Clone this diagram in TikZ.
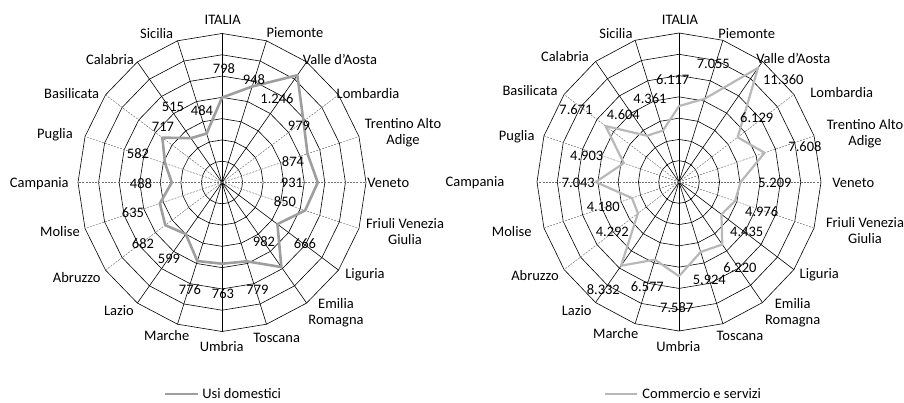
\documentclass[tikz,border=0pt]{standalone}
\usepackage{fontspec}
\setmainfont{Carlito}
\usepackage{tikz}
\usetikzlibrary{positioning}

\begin{document}
\begin{tikzpicture}[x=1pt, y=1pt]
	\tikzstyle{Region}	= [inner sep=0pt, font=\fontsize{14.5}{16}\selectfont, align=center]
	\tikzstyle{Value}	= [inner sep=0pt, font=\fontsize{14.5}{16}\selectfont]
	\tikzstyle{Ring}	= [line width=0.6pt, black]
	\tikzstyle{Spoke}	= [line width=0.6pt, black]
	\tikzstyle{Faint}	= [line width=0.5pt, black!55, dash pattern=on 2pt off 1.2pt]
	\tikzstyle{UD}		= [line width=2.6pt, black!38, line join=round]
	\tikzstyle{CS}		= [line width=2.2pt, black!28, line join=round]

	\useasboundingbox (0,0) rectangle (904,402);

	% grid, usi domestici
	\begin{scope}[shift={(222,219.5)}, xscale=144, yscale=149]
		\foreach \r in {1,...,7}
			\draw [Ring] (90:{\r/7}) \foreach \i in {1,...,19} { -- ({90-18*\i}:{\r/7}) } -- cycle;
		\foreach \i in {0,1,2,7,8,9,10,11,12,18,19}
			\draw [Spoke] (0,0) -- ({90-18*\i}:1);
		\foreach \i in {3,4,5,6,13,14,15,16,17}
			\draw [Faint] (0,0) -- ({90-18*\i}:1);
		\foreach \v [count=\i from 0] in {798,948,1246,979,874,931,850,666,982,779,763,776,599,682,635,488,582,717,515,484}
			\coordinate (d\i) at ({90-18*\i}:{\v/1400});
	\end{scope}

	% grid, commercio e servizi
	\begin{scope}[shift={(679,220)}, xscale=142, yscale=149]
		\foreach \r in {1,...,7}
			\draw [Ring] (90:{\r/7}) \foreach \i in {1,...,19} { -- ({90-18*\i}:{\r/7}) } -- cycle;
		\foreach \i in {0,1,2,7,8,9,10,11,12,18,19}
			\draw [Spoke] (0,0) -- ({90-18*\i}:1);
		\foreach \i in {3,4,5,6,13,14,15,16,17}
			\draw [Faint] (0,0) -- ({90-18*\i}:1);
		\foreach \v [count=\i from 0] in {6117,7055,11360,6129,7608,5209,4976,4435,6220,5924,7587,6577,8332,4292,4180,7043,4903,7671,4604,4361}
			\coordinate (c\i) at ({90-18*\i}:{\v/12000});
	\end{scope}

	\draw [UD] (d0) \foreach \i in {1,...,19} { -- (d\i) } -- cycle;
	\draw [CS] (c0) \foreach \i in {1,...,19} { -- (c\i) } -- cycle;

	% regioni, sinistra
	\node (dItalia) at (222.7, 382) [Region] {ITALIA};
	\node (dPiemonte) at (295, 369.7) [Region] {Piemonte};
	\node (dValle) at (340, 342.7) [Region] {Valle d'Aosta};
	\node (dLombardia) at (368, 308.7) [Region] {Lombardia};
	\node (dTrentino) at (403, 269.5) [Region] {Trentino Alto\\Adige};
	\node (dVeneto) at (388.3, 218.7) [Region] {Veneto};
	\node (dFriuli) at (405, 170.7) [Region] {Friuli Venezia\\Giulia};
	\node (dLiguria) at (365, 127) [Region] {Liguria};
	\node (dEmilia) at (336, 89) [Region] {Emilia\\Romagna};
	\node (dToscana) at (276.7, 63.7) [Region] {Toscana};
	\node (dUmbria) at (221.7, 55.3) [Region] {Umbria};
	\node (dMarche) at (166.7, 66) [Region] {Marche};
	\node (dLazio) at (119, 91.3) [Region] {Lazio};
	\node (dAbruzzo) at (76.7, 124.7) [Region] {Abruzzo};
	\node (dMolise) at (60, 170.3) [Region] {Molise};
	\node (dCampania) at (39.3, 218) [Region] {Campania};
	\node (dPuglia) at (55, 267) [Region] {Puglia};
	\node (dBasilicata) at (71.7, 308) [Region] {Basilicata};
	\node (dCalabria) at (110, 342.7) [Region] {Calabria};
	\node (dSicilia) at (156.7, 368.7) [Region] {Sicilia};

	% valori, sinistra
	\node (dv0) at (224, 333) [Value] {798};
	\node (dv1) at (254, 322) [Value] {948};
	\node (dv2) at (277, 303) [Value] {1.246};
	\node (dv3) at (299, 276) [Value] {979};
	\node (dv4) at (293, 240) [Value] {874};
	\node (dv5) at (292, 219) [Value] {931};
	\node (dv6) at (285, 200) [Value] {850};
	\node (dv7) at (305, 158.5) [Value] {666};
	\node (dv8) at (264, 160.5) [Value] {982};
	\node (dv9) at (257.5, 112) [Value] {779};
	\node (dv10) at (223, 108) [Value] {763};
	\node (dv11) at (190, 112) [Value] {776};
	\node (dv12) at (169, 143.5) [Value] {599};
	\node (dv13) at (143, 158.5) [Value] {682};
	\node (dv14) at (133, 189) [Value] {635};
	\node (dv15) at (141, 218) [Value] {488};
	\node (dv16) at (138, 248) [Value] {582};
	\node (dv17) at (163, 275) [Value] {717};
	\node (dv18) at (173, 295) [Value] {515};
	\node (dv19) at (202, 291) [Value] {484};

	% regioni, destra
	\node (cItalia) at (680, 382) [Region] {ITALIA};
	\node (cPiemonte) at (746.7, 368.7) [Region] {Piemonte};
	\node (cValle) at (793.3, 343.7) [Region] {Valle d'Aosta};
	\node (cLombardia) at (841.7, 309.3) [Region] {Lombardia};
	\node (cTrentino) at (865, 268) [Region] {Trentino Alto\\Adige};
	\node (cVeneto) at (853.3, 218.7) [Region] {Veneto};
	\node (cFriuli) at (865, 171.2) [Region] {Friuli Venezia\\Giulia};
	\node (cLiguria) at (819.3, 127) [Region] {Liguria};
	\node (cEmilia) at (792.7, 89) [Region] {Emilia\\Romagna};
	\node (cToscana) at (740, 66) [Region] {Toscana};
	\node (cUmbria) at (678.3, 55.3) [Region] {Umbria};
	\node (cMarche) at (615.7, 68.7) [Region] {Marche};
	\node (cLazio) at (576.7, 91.3) [Region] {Lazio};
	\node (cAbruzzo) at (535, 126) [Region] {Abruzzo};
	\node (cMolise) at (511.7, 170.3) [Region] {Molise};
	\node (cCampania) at (475, 219.3) [Region] {Campania};
	\node (cPuglia) at (516.7, 265.3) [Region] {Puglia};
	\node (cBasilicata) at (530, 311.3) [Region] {Basilicata};
	\node (cCalabria) at (565, 345.3) [Region] {Calabria};
	\node (cSicilia) at (616, 368.7) [Region] {Sicilia};

	% valori, destra
	\node (cv0) at (672.7, 322.7) [Value] {6.117};
	\node (cv1) at (713.3, 337.7) [Value] {7.055};
	\node (cv2) at (783.3, 322.7) [Value] {11.360};
	\node (cv3) at (756.7, 284.7) [Value] {6.129};
	\node (cv4) at (805, 255.3) [Value] {7.608};
	\node (cv5) at (775, 219.3) [Value] {5.209};
	\node (cv6) at (761.7, 190.3) [Value] {4.976};
	\node (cv7) at (746.7, 170.3) [Value] {4.435};
	\node (cv8) at (740, 134.7) [Value] {6.220};
	\node (cv9) at (709.3, 122) [Value] {5.924};
	\node (cv10) at (676.7, 94.7) [Value] {7.587};
	\node (cv11) at (647.3, 115.3) [Value] {6.577};
	\node (cv12) at (603.3, 112.7) [Value] {8.332};
	\node (cv13) at (612.3, 170.3) [Value] {4.292};
	\node (cv14) at (603.3, 195.3) [Value] {4.180};
	\node (cv15) at (578.3, 219.3) [Value] {7.043};
	\node (cv16) at (586.7, 246.3) [Value] {4.903};
	\node (cv17) at (576, 292) [Value] {7.671};
	\node (cv18) at (623.3, 287) [Value] {4.604};
	\node (cv19) at (650, 303) [Value] {4.361};

	% legenda
	\coordinate (udA) at (165, 8);
	\coordinate (udB) at (198, 8);
	\node (udText) at (241.7, 8) [Value] {Usi domestici};
	\draw [-] (udA) to (udB) [UD];
	\coordinate (csA) at (605, 8);
	\coordinate (csB) at (637, 8);
	\node (csText) at (701.7, 8) [Value] {Commercio e servizi};
	\draw [-] (csA) to (csB) [CS];
\end{tikzpicture}
\end{document}
